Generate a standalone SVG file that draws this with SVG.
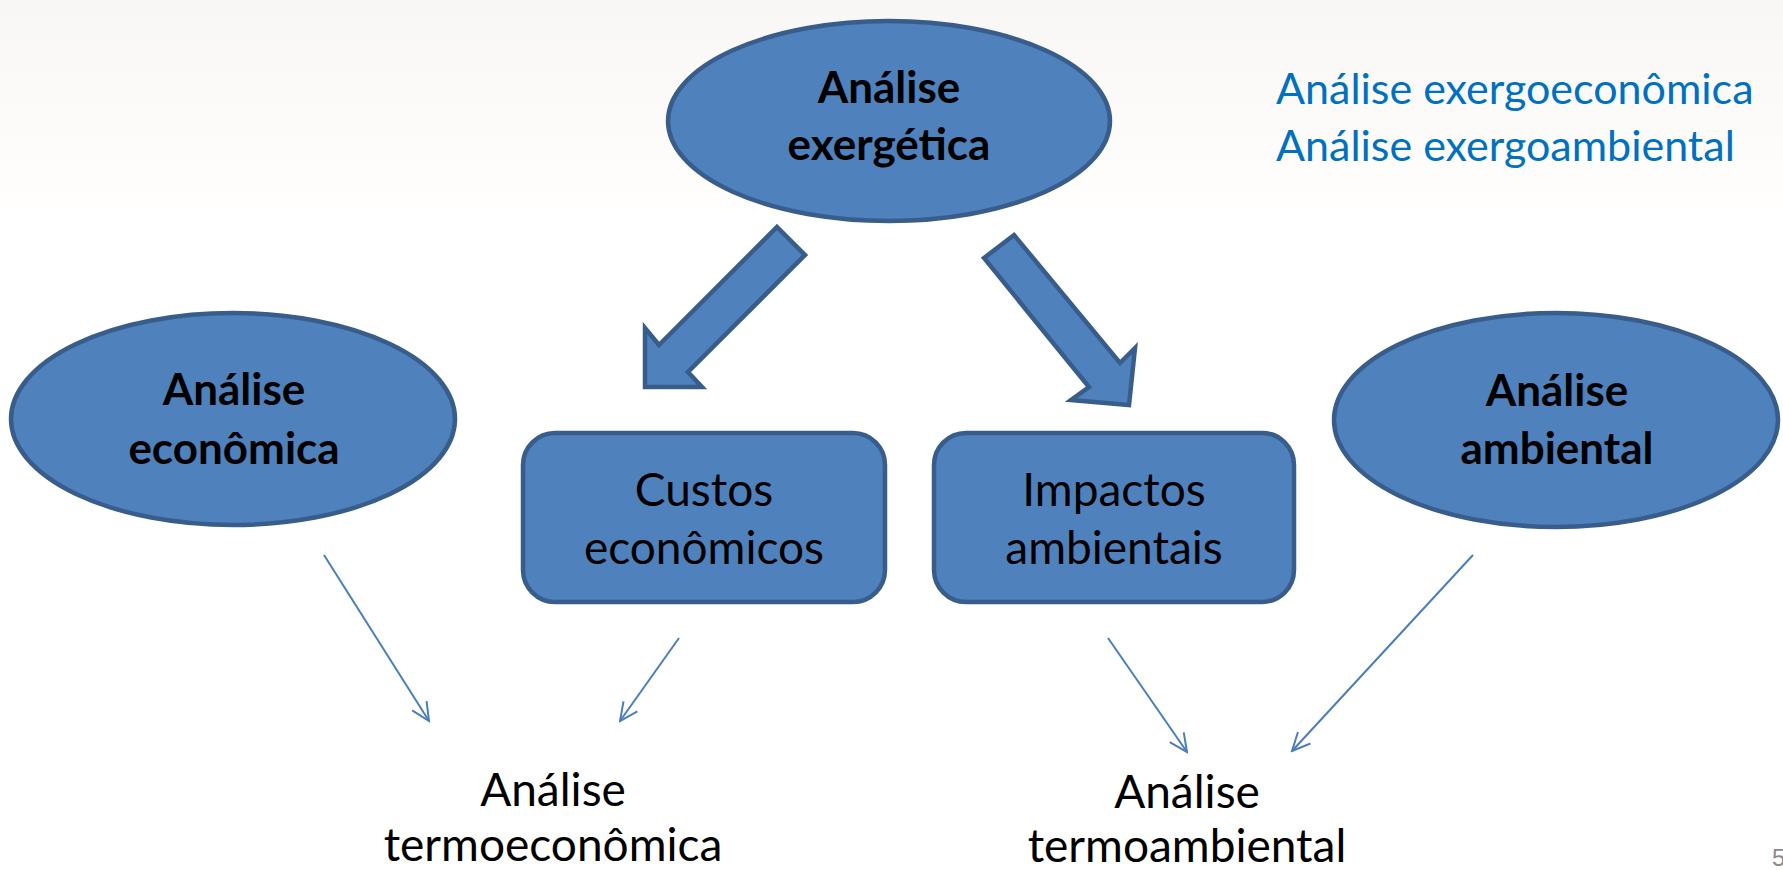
<svg xmlns="http://www.w3.org/2000/svg" width="1783" height="870" viewBox="0 0 1783 870">
  <style>
    .shape { fill: #4F81BD; stroke: #385D8A; stroke-width: 4.5; }
    .bold { font-family: Lato, "Liberation Sans", sans-serif; font-weight: bold; font-size: 44px; fill: #000; text-anchor: middle; }
    .reg { font-family: Lato, "Liberation Sans", sans-serif; font-size: 46px; fill: #000; text-anchor: middle; }
    .blue { font-family: Lato, "Liberation Sans", sans-serif; font-size: 43px; fill: #0070C0; }
    .conn { stroke: #4A7EBB; stroke-width: 2; fill: none; marker-end: url(#open); }
  </style>
  <defs>
    <linearGradient id="bg" x1="0" y1="0" x2="0" y2="1">
      <stop offset="0" stop-color="#F8F7F5"/>
      <stop offset="1" stop-color="#FFFEFC"/>
    </linearGradient>
    <marker id="open" viewBox="0 0 22 22" refX="20" refY="11" markerWidth="22" markerHeight="22" markerUnits="userSpaceOnUse" orient="auto">
      <path d="M2,2.5 L20,11 L2,19.5" fill="none" stroke="#4A7EBB" stroke-width="2"/>
    </marker>
  </defs>

  <rect x="0" y="0" width="1783" height="870" fill="#FFFFFF"/>
  <rect x="0" y="0" width="1783" height="207" fill="url(#bg)"/>

  <g id="analise-exergetica">
    <ellipse class="shape" cx="889" cy="121" rx="221" ry="100"/>
    <text class="bold" x="889" y="103">Análise</text>
    <text class="bold" x="889" y="160">exergética</text>
  </g>

  <g id="analise-economica">
    <ellipse class="shape" cx="233" cy="419" rx="222" ry="106"/>
    <text class="bold" x="234" y="405">Análise</text>
    <text class="bold" x="234" y="464">econômica</text>
  </g>

  <g id="analise-ambiental">
    <ellipse class="shape" cx="1556" cy="420" rx="222" ry="107"/>
    <text class="bold" x="1557" y="406">Análise</text>
    <text class="bold" x="1557" y="464">ambiental</text>
  </g>

  <g id="custos-economicos">
    <rect class="shape" x="523" y="433" width="362" height="169" rx="32" ry="32"/>
    <text class="reg" x="704" y="506">Custos</text>
    <text class="reg" x="704" y="564">econômicos</text>
  </g>

  <g id="impactos-ambientais">
    <rect class="shape" x="934" y="433" width="360" height="169" rx="32" ry="32"/>
    <text class="reg" x="1114" y="506">Impactos</text>
    <text class="reg" x="1114" y="564">ambientais</text>
  </g>

  <g id="analise-termoeconomica">
    <text class="reg" x="553" y="806">Análise</text>
    <text class="reg" x="553" y="861">termoeconômica</text>
  </g>

  <g id="analise-termoambiental">
    <text class="reg" x="1187" y="808">Análise</text>
    <text class="reg" x="1187" y="862">termoambiental</text>
  </g>

  <g id="legend">
    <text class="blue" x="1276" y="104">Análise exergoeconômica</text>
    <text class="blue" x="1276" y="161">Análise exergoambiental</text>
  </g>

  <g id="connectors">
    <polygon class="shape" points="777,227 805,255 688,372 702,387 645,387 645,328 659,345"/>
    <polygon class="shape" points="984,258 1014,235 1120,363 1135,348 1129,405 1071,400 1089,387"/>
    <line class="conn" x1="324" y1="555" x2="429" y2="721"/>
    <line class="conn" x1="679" y1="638" x2="620" y2="721"/>
    <line class="conn" x1="1108" y1="638" x2="1187" y2="752"/>
    <line class="conn" x1="1473" y1="555" x2="1292" y2="751"/>
  </g>

  <text x="1772" y="866" font-family="'Liberation Sans', sans-serif" font-size="24" fill="#8A8A8A">5</text>
</svg>
